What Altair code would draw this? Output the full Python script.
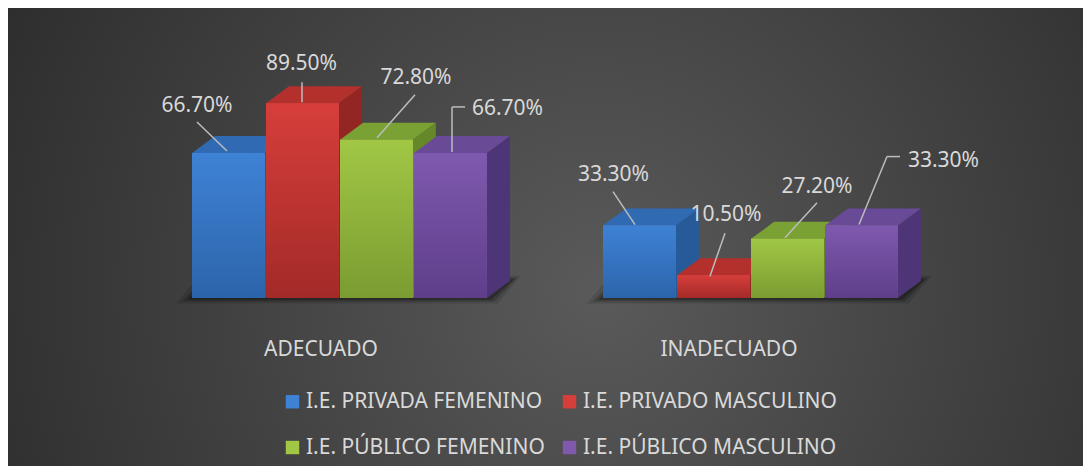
import altair as alt
import pandas as pd

# ---------------- data ----------------
CATEGORIES = ["ADECUADO", "INADECUADO"]
SERIES = ["I.E. PRIVADA FEMENINO", "I.E. PRIVADO  MASCULINO",
          "I.E. PÚBLICO FEMENINO", "I.E. PÚBLICO MASCULINO"]
PRIVADA_FEMENINO = [66.7, 33.3]
PRIVADO_MASCULINO = [89.5, 10.5]
PUBLICO_FEMENINO = [72.8, 27.2]
PUBLICO_MASCULINO = [66.7, 33.3]
VALUES = [PRIVADA_FEMENINO, PRIVADO_MASCULINO, PUBLICO_FEMENINO, PUBLICO_MASCULINO]

# ---------------- styles ----------------
FRONT_TOP = ["#3e82d5", "#d63e3b", "#a1c745", "#7f59ae"]
FRONT_BOT = ["#2c64aa", "#a32a28", "#7a9c31", "#5e3e8a"]
TOP_COL = ["#2f6ab3", "#b3302d", "#79a133", "#694a97"]
SIDE_COL = ["#275a98", "#932523", "#668828", "#4d3577"]
TEXT_COL = "#d9d9d9"
LINE_COL = "#bdbdbd"
FONT = "Noto Sans"

# ---------------- layout ----------------
W, H = 1075, 458
PX_U = 74.0            # px per x unit (one bar width)
PX_P = 2.175           # px per percentage point
BASE_PX = 290          # baseline y in chart px
X0_PX = 184            # left of first bar in chart px
GROUP_STEP = 5.554     # units between groups
GAP = 0.015
DU = 23 / PX_U
DV = 17 / PX_P
U_DOM = [-X0_PX / PX_U, (W - X0_PX) / PX_U]
V_DOM = [(BASE_PX - H) / PX_P, BASE_PX / PX_P]

# label / leader offsets in px relative to (bar center, bar top), y down
LABEL_OFF = [[(-32, -47), (-1.5, -39), (39, -62), (56.5, -44)],
             [(-26.5, -51), (12, -60), (29, -52), (81.5, -65)]]
LEADERS = [[[(-2, -2, -32, -31)], [(-1, -1, -1, -21)], [(0, -2, 38, -45)],
            [(1, -1, 1, -46), (1, -46, 14, -46)]],
           [[(-5, -1, -27, -34)], [(-4, 1, 11, -42)], [(-3, -1, 29, -36)],
            [(-3, -1, 25, -69), (25, -69, 38, -69)]]]
CAT_OFF_PX = [-19, -22]
CAT_Y_PX = 52

LEGEND_ORDER = [0, 2, 1, 3]   # row-major display in a 2-column legend

xs = alt.Scale(domain=U_DOM, nice=False, zero=False)
ys = alt.Scale(domain=V_DOM, nice=False, zero=False)


def pu(px):
    return px / PX_U


def pv(py):
    return -py / PX_P


fronts, tops, sides, labels, lines, cats, floor = [], [], [], [], [], [], []
for gi, cat in enumerate(CATEGORIES):
    gstart = gi * GROUP_STEP
    for si, s in enumerate(SERIES):
        v = VALUES[si][gi]
        x0 = gstart + si
        x1 = x0 + 1 - GAP
        fid = f"{gi}-{si}"
        fronts.append(dict(series=s, x0=x0, x1=x1, base=0.0, val=v))
        for (px, lo, hi) in [(x0, v, v), (x0 + DU, v, v + DV), (x1, v, v + DV), (x1 + DU, v + DV, v + DV)]:
            tops.append(dict(fid=fid, x=px, lo=lo, hi=hi, fill=TOP_COL[si]))
        for (px, lo, hi) in [(x1, 0.0, v), (x1 + DU, DV, v + DV)]:
            sides.append(dict(fid=fid, x=px, lo=lo, hi=hi, fill=SIDE_COL[si]))
        cx = x0 + 0.5
        ox, oy = LABEL_OFF[gi][si]
        labels.append(dict(x=cx + pu(ox), y=v + pv(oy), text=f"{v:.2f}%"))
        for (a, b, c, d) in LEADERS[gi][si]:
            lines.append(dict(x=cx + pu(a), y=v + pv(b), x2=cx + pu(c), y2=v + pv(d)))
    gc = gstart + 2
    cats.append(dict(x=gc + pu(CAT_OFF_PX[gi]), y=pv(CAT_Y_PX), text=cat))
    for k, (ext, op) in enumerate([(16, 0.12), (10, 0.18), (5, 0.25)]):
        xl = gstart - pu(ext)
        xr = gstart + 4 + pu(ext * 0.6)
        fb = pv(ext * 0.35)
        fdv = DV + ext * 0.15
        for (px, lo, hi) in [(xl, fb, fb), (xl + DU, fb, fdv), (xr, fb, fdv), (xr + DU, fdv, fdv)]:
            floor.append(dict(fid=f"{gi}-{k}", x=px, lo=lo, hi=hi, op=op))

fronts = pd.DataFrame(fronts)
tops = pd.DataFrame(tops)
sides = pd.DataFrame(sides)
labels = pd.DataFrame(labels)
lines = pd.DataFrame(lines)
cats = pd.DataFrame(cats)
floor = pd.DataFrame(floor)

bg = alt.Chart(pd.DataFrame({"a": [0]})).mark_rect(
    color=alt.Gradient(gradient="radial",
                       stops=[alt.GradientStop(offset=0, color="#5a5a5a"),
                              alt.GradientStop(offset=1, color="#262626")],
                       x1=0.55, y1=0.55, r1=0, x2=0.55, y2=0.55, r2=0.72)
).encode(x=alt.value(0), x2=alt.value(W), y=alt.value(0), y2=alt.value(H))

floor_l = alt.Chart(floor).mark_area(color="#000000").encode(
    x=alt.X("x:Q", scale=xs, axis=None),
    y=alt.Y("lo:Q", scale=ys, axis=None), y2="hi:Q",
    detail="fid:N", opacity=alt.Opacity("op:Q", scale=None))

side_l = alt.Chart(sides).mark_area().encode(
    x=alt.X("x:Q", scale=xs, axis=None),
    y=alt.Y("lo:Q", scale=ys, axis=None), y2="hi:Q",
    detail="fid:N", color=alt.Color("fill:N", scale=None))

top_l = alt.Chart(tops).mark_area().encode(
    x=alt.X("x:Q", scale=xs, axis=None),
    y=alt.Y("lo:Q", scale=ys, axis=None), y2="hi:Q",
    detail="fid:N", color=alt.Color("fill:N", scale=None))

front_legend = alt.Chart(fronts).mark_rect().encode(
    x=alt.X("x0:Q", scale=xs, axis=None), x2="x1:Q",
    y=alt.Y("base:Q", scale=ys, axis=None), y2="val:Q",
    color=alt.Color("series:N",
                    scale=alt.Scale(domain=[SERIES[i] for i in LEGEND_ORDER],
                                    range=[FRONT_TOP[i] for i in LEGEND_ORDER]),
                    legend=alt.Legend(orient="none", legendX=274, legendY=383,
                                      columns=2, title=None, symbolType="square",
                                      symbolSize=180, symbolStrokeWidth=0,
                                      labelFont=FONT, labelFontSize=21,
                                      labelColor=TEXT_COL, labelOffset=3,
                                      columnPadding=14, rowPadding=24,
                                      padding=0, labelLimit=500)))

front_grads = []
for si, s in enumerate(SERIES):
    front_grads.append(alt.Chart(fronts).transform_filter(
        alt.datum.series == s).mark_rect(
        color=alt.Gradient(gradient="linear",
                           stops=[alt.GradientStop(offset=0, color=FRONT_TOP[si]),
                                  alt.GradientStop(offset=1, color=FRONT_BOT[si])],
                           x1=0, y1=0, x2=0, y2=1)
    ).encode(x=alt.X("x0:Q", scale=xs, axis=None), x2="x1:Q",
             y=alt.Y("base:Q", scale=ys, axis=None), y2="val:Q"))

line_l = alt.Chart(lines).mark_rule(color=LINE_COL, strokeWidth=1.5).encode(
    x=alt.X("x:Q", scale=xs, axis=None), x2="x2:Q",
    y=alt.Y("y:Q", scale=ys, axis=None), y2="y2:Q")

label_l = alt.Chart(labels).mark_text(font=FONT, fontSize=21, color=TEXT_COL,
                                      align="center", baseline="middle").encode(
    x=alt.X("x:Q", scale=xs, axis=None), y=alt.Y("y:Q", scale=ys, axis=None),
    text="text:N")

cat_l = alt.Chart(cats).mark_text(font=FONT, fontSize=21, color=TEXT_COL,
                                  align="center", baseline="middle").encode(
    x=alt.X("x:Q", scale=xs, axis=None), y=alt.Y("y:Q", scale=ys, axis=None),
    text="text:N")

chart = alt.layer(bg, floor_l, side_l, top_l, front_legend, *front_grads,
                  line_l, label_l, cat_l).properties(
    width=W, height=H, padding=0,
    autosize=alt.AutoSizeParams(type="none"),
    background="#2b2b2b"
).configure_view(strokeWidth=0)

chart.save("out.html", embed_options={"renderer": "svg", "actions": False})
